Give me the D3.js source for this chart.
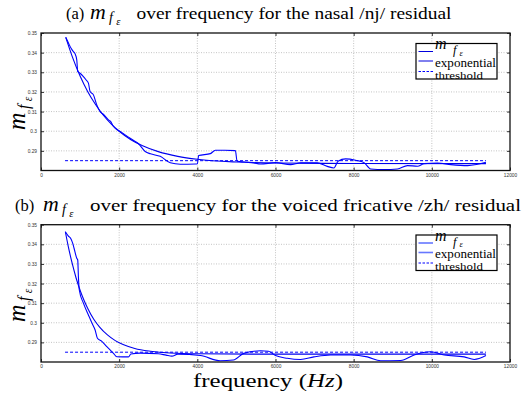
<!DOCTYPE html>
<html>
<head>
<meta charset="utf-8">
<script src="https://cdn.jsdelivr.net/npm/d3@7"></script>
<style>
  body { margin: 0; background: #fff; }
  svg { display: block; font-family: "Liberation Serif", "DejaVu Serif", serif; }
  .tick-label { font-family: "Liberation Sans", sans-serif; font-size: 4.8px; fill: #333; }
</style>
</head>
<body>
<svg id="chart" width="524" height="398"></svg>
<script>
// tick values
var freqTicks = [0, 2000, 4000, 6000, 8000, 10000, 12000];
var mfTicks = [0.29, 0.3, 0.31, 0.32, 0.33, 0.34, 0.35];

// (a) nasal /nj/ residual
var nasalFreq = [633, 700, 770, 828, 870, 915, 940, 1000, 1085, 1150, 1213, 1256, 1342, 1427, 1513, 1600,
  1726, 1780, 1855, 2026, 2200, 2410, 2500, 2667, 2800, 3051, 3308, 3564, 3949, 4000, 4034, 4333, 4462,
  4700, 4974, 5017, 5200, 5444, 5615, 6000, 6385, 6641, 7068, 7325, 7495, 7600, 7795, 8051, 8265, 8436,
  8778, 9120, 9377, 9633, 9803, 10146, 10487, 10915, 11171, 11385];
var nasalMf = [0.3478, 0.3450, 0.3422, 0.3405, 0.3395, 0.3363, 0.3304, 0.3295, 0.3278, 0.3262, 0.3245,
  0.3202, 0.3185, 0.3134, 0.3100, 0.3085, 0.3058, 0.3050, 0.3024, 0.2999, 0.2975, 0.2948, 0.2935, 0.2897,
  0.2885, 0.2872, 0.2839, 0.2832, 0.2833, 0.2834, 0.2876, 0.2886, 0.2903, 0.2903, 0.2901, 0.2847, 0.2843,
  0.2839, 0.2833, 0.2840, 0.2830, 0.2839, 0.2839, 0.2821, 0.2813, 0.2847, 0.2859, 0.2852, 0.2840, 0.2808,
  0.2805, 0.2808, 0.2825, 0.2822, 0.2835, 0.2838, 0.2830, 0.2825, 0.2832, 0.2842];
var nasalExpFreq = [633, 800, 1000, 1200, 1400, 1600, 1800, 2000, 2300, 2600, 3000, 3500, 4000, 5000, 6000, 8000, 11385];
var nasalExp = [0.3478, 0.3380, 0.3281, 0.3200, 0.3135, 0.3080, 0.3036, 0.3000, 0.2957, 0.2926, 0.2896,
  0.2872, 0.2857, 0.2843, 0.2838, 0.2836, 0.2835];
var nasalThreshold = 0.2850;

// (b) voiced fricative /zh/ residual
var fricFreq = [623, 701, 761, 812, 846, 915, 940, 957, 980, 1085, 1213, 1300, 1385, 1444, 1556, 1684,
  1855, 1940, 2239, 2299, 2538, 3000, 3200, 3350, 3500, 4077, 4590, 4923, 5188, 5615, 5820, 6000, 6300,
  6641, 6983, 7410, 7923, 8351, 8692, 9205, 9547, 9974, 10316, 10829, 11085, 11385];
var fricMf = [0.3464, 0.3442, 0.3430, 0.3405, 0.3380, 0.3329, 0.3320, 0.3235, 0.3167, 0.3100, 0.3040,
  0.3000, 0.2963, 0.2921, 0.2905, 0.2878, 0.2844, 0.2827, 0.2826, 0.2841, 0.2845, 0.2842, 0.2835, 0.2830,
  0.2840, 0.2833, 0.2806, 0.2810, 0.2844, 0.2857, 0.2855, 0.2833, 0.2819, 0.2813, 0.2826, 0.2836, 0.2836,
  0.2826, 0.2806, 0.2808, 0.2836, 0.2852, 0.2836, 0.2826, 0.2813, 0.2833];
var fricExpFreq = [623, 700, 800, 900, 1000, 1100, 1200, 1350, 1500, 1700, 1900, 2100, 2400, 2800, 3300, 4000, 6000, 11385];
var fricExp = [0.3464, 0.3387, 0.3301, 0.3227, 0.3166, 0.3115, 0.3072, 0.3018, 0.2978, 0.2938, 0.2909,
  0.2889, 0.2869, 0.2855, 0.2846, 0.2842, 0.2840, 0.2840];
var fricThreshold = 0.2850;
var thresholdFreq = [615, 11385];

var svg = d3.select('#chart');
svg.append('rect').attr('width', 524).attr('height', 398).attr('fill', '#fff');

var x = d3.scaleLinear().domain([0, 12000]).range([41, 510]);

// m_{f_eps} drawn as three pieces; (x0, y0) is the baseline start of the m
function mSymbol(g, x0, y0, s) {
  g.append('text').attr('x', x0).attr('y', y0).attr('font-size', 23 * s)
    .attr('font-style', 'italic').text('m');
  g.append('text').attr('x', x0 + 20 * s).attr('y', y0 + 3.5 * s).attr('font-size', 15 * s)
    .attr('font-style', 'italic').text('f');
  g.append('text').attr('x', x0 + 27.5 * s).attr('y', y0 + 7 * s).attr('font-size', 11 * s)
    .attr('font-style', 'italic').text('\u03b5');
}

function panel(cfg) {
  var y = d3.scaleLinear().domain([0.28, 0.35]).range([cfg.bottom, cfg.top]);
  var g = svg.append('g');

  // grid
  g.selectAll('.vgrid').data(freqTicks.slice(1, -1)).enter().append('line')
    .attr('x1', function (d) { return x(d); }).attr('x2', function (d) { return x(d); })
    .attr('y1', cfg.top).attr('y2', cfg.bottom)
    .attr('stroke', '#aaa').attr('stroke-width', 0.7).attr('stroke-dasharray', '1,1.5');
  g.selectAll('.hgrid').data(mfTicks.slice(0, -1)).enter().append('line')
    .attr('x1', x(0)).attr('x2', x(12000))
    .attr('y1', function (d) { return y(d); }).attr('y2', function (d) { return y(d); })
    .attr('stroke', '#aaa').attr('stroke-width', 0.7).attr('stroke-dasharray', '1,1.5');

  // curves
  var line = d3.line().curve(d3.curveMonotoneX)
    .x(function (d) { return x(d[0]); })
    .y(function (d) { return y(d[1]); });
  g.append('path').datum(d3.zip(cfg.expFreq, cfg.exp))
    .attr('d', line)
    .attr('fill', 'none').attr('stroke', '#0000ee').attr('stroke-width', 1.1);
  g.append('path').datum(d3.zip(cfg.freq, cfg.mf))
    .attr('d', line)
    .attr('fill', 'none').attr('stroke', '#0000ff').attr('stroke-width', 1.1);
  g.append('line')
    .attr('x1', x(thresholdFreq[0])).attr('x2', x(thresholdFreq[1]))
    .attr('y1', y(cfg.threshold)).attr('y2', y(cfg.threshold))
    .attr('stroke', '#0000ff').attr('stroke-width', 1).attr('stroke-dasharray', '3,2');

  // axes (matlab style: ticks inside on all four sides)
  var ax = g.append('g').attr('transform', 'translate(0,' + cfg.bottom + ')')
    .call(d3.axisBottom(x).tickValues(freqTicks).tickSizeInner(-3).tickSizeOuter(0).tickFormat(d3.format('d')));
  var axTop = g.append('g').attr('transform', 'translate(0,' + cfg.top + ')')
    .call(d3.axisTop(x).tickValues(freqTicks).tickSizeInner(-3).tickSizeOuter(0).tickFormat(''));
  var ay = g.append('g').attr('transform', 'translate(' + x(0) + ',0)')
    .call(d3.axisLeft(y).tickValues(mfTicks).tickSizeInner(-3).tickSizeOuter(0).tickFormat(d3.format('')));
  var ayR = g.append('g').attr('transform', 'translate(' + x(12000) + ',0)')
    .call(d3.axisRight(y).tickValues(mfTicks).tickSizeInner(-3).tickSizeOuter(0).tickFormat(''));
  [ax, axTop, ay, ayR].forEach(function (a) {
    a.select('.domain').remove();
    a.selectAll('.tick line').attr('stroke', '#000').attr('stroke-width', 0.8);
  });
  ax.selectAll('.tick text').attr('class', 'tick-label').attr('y', 3).attr('dy', '0.7em');
  ay.selectAll('.tick text').attr('class', 'tick-label').attr('x', -4);

  g.append('rect')
    .attr('x', x(0)).attr('y', cfg.top)
    .attr('width', x(12000) - x(0)).attr('height', cfg.bottom - cfg.top)
    .attr('fill', 'none').attr('stroke', '#111').attr('stroke-width', 1.3);

  // title, placed piece by piece
  var tt = cfg.title;
  g.append('text').attr('x', tt.x).attr('y', tt.y).attr('font-size', 16.5).text(cfg.titleA);
  mSymbol(g, tt.mx, tt.y, 0.95);
  g.append('text').attr('x', tt.sx).attr('y', tt.y).attr('font-size', 17.5)
    .attr('textLength', tt.len).attr('lengthAdjust', 'spacingAndGlyphs').text(cfg.titleB);

  // y label, rotated
  var yl = g.append('g').attr('transform', 'translate(25,' + cfg.ylabelY + ') rotate(-90)');
  mSymbol(yl, -21, 0, 1.05);

  // legend
  var lg = g.append('g').attr('transform', 'translate(416,' + cfg.legendTop + ')');
  lg.append('rect').attr('width', 81).attr('height', 35.5)
    .attr('fill', '#fff').attr('stroke', '#000').attr('stroke-width', 1.2);
  var items = [
    { dash: null, color: cfg.legendColor, w: cfg.legendWidth, y: 8 },
    { dash: null, color: cfg.legendColor, w: cfg.legendWidth, y: 17.5 },
    { dash: '2.5,1.5', color: '#0000ff', w: 1, y: 28 }
  ];
  lg.selectAll('.key').data(items).enter().append('line')
    .attr('x1', 2.5).attr('x2', 17)
    .attr('y1', function (d) { return d.y; }).attr('y2', function (d) { return d.y; })
    .attr('stroke', function (d) { return d.color; })
    .attr('stroke-width', function (d) { return d.w; })
    .attr('stroke-dasharray', function (d) { return d.dash; });
  lg.append('text').attr('x', 19).attr('y', 5.8).attr('font-size', 16).attr('font-style', 'italic').text('m');
  lg.append('text').attr('x', 37).attr('y', 10.8).attr('font-size', 12.5).attr('font-style', 'italic').text('f');
  lg.append('text').attr('x', 43.5).attr('y', 12.2).attr('font-size', 8.5).attr('font-style', 'italic').text('\u03b5');
  lg.append('text').attr('x', 19).attr('y', 23).attr('font-size', 11.5)
    .attr('textLength', 61).attr('lengthAdjust', 'spacingAndGlyphs').text('exponential');
  lg.append('text').attr('x', 19).attr('y', 35).attr('font-size', 10.5)
    .attr('textLength', 48).attr('lengthAdjust', 'spacingAndGlyphs').text('threshold');
}

panel({
  top: 33, bottom: 170.5, freq: nasalFreq, mf: nasalMf, expFreq: nasalExpFreq, exp: nasalExp,
  threshold: nasalThreshold,
  title: { x: 66, mx: 90, sx: 136.5, y: 18.5, len: 315 },
  titleA: '(a)', titleB: 'over frequency for the nasal /nj/ residual',
  ylabelY: 109, legendTop: 43.5, legendColor: '#0000dd', legendWidth: 1
});
panel({
  top: 224.7, bottom: 362, freq: fricFreq, mf: fricMf, expFreq: fricExpFreq, exp: fricExp,
  threshold: fricThreshold,
  title: { x: 15, mx: 43, sx: 90, y: 210.7, len: 431 },
  titleA: '(b)', titleB: 'over frequency for the voiced fricative /zh/ residual',
  ylabelY: 301, legendTop: 235, legendColor: '#6677ff', legendWidth: 1.6
});

// x label
var xl = svg.append('text').attr('x', 193).attr('y', 387)
  .attr('font-size', 19.5).attr('textLength', 150).attr('lengthAdjust', 'spacingAndGlyphs');
xl.append('tspan').text('frequency (');
xl.append('tspan').attr('font-style', 'italic').text('Hz');
xl.append('tspan').text(')');
</script>
</body>
</html>
